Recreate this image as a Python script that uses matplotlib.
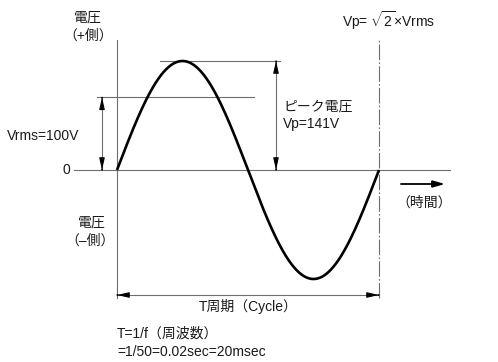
import numpy as np
import matplotlib
matplotlib.use("Agg")
import matplotlib.pyplot as plt

plt.rcParams['font.family'] = ['Liberation Sans', 'Noto Sans CJK JP']
plt.rcParams['mathtext.fontset'] = 'custom'
plt.rcParams['mathtext.rm'] = 'Liberation Sans'

# values of the diagram
period_ms = 20          # T = 1/50 s
peak_v = 141            # Vp
rms_line_v = 94         # level of the Vrms line as drawn
t = np.linspace(0, period_ms, 400)
v = peak_v * np.sin(2 * np.pi * t / period_ms)

# pixel <-> data mapping of the picture
X0, XS = 117, 262 / period_ms     # px of t=0, px per ms
Y0, YS = 170, 109 / peak_v        # px of v=0, px per V


def px(x, y):
    return (x - X0) / XS, (Y0 - y) / YS


fig = plt.figure(figsize=(4.98, 3.62), dpi=100)
ax = fig.add_axes([0, 0, 1, 1])
ax.set_xlim(px(0, 0)[0], px(498, 0)[0])
ax.set_ylim(px(0, 362)[1], px(0, 0)[1])
ax.axis('off')

gray = '#6e6e6e'
txt = '#1a1a1a'

# axes
top = px(0, 40)[1]
bot = px(0, 298)[1]
ax.plot([0, 0], [bot, top], color=gray, lw=0.8)
ax.plot([px(74, 0)[0], px(450, 0)[0]], [0, 0], color=gray, lw=0.8)

# dash-dot end of period
ax.plot([period_ms, period_ms], [bot, top], color=gray, lw=0.8,
        linestyle=(0, (14, 2, 1.5, 2)))

# level lines
ax.plot([px(160, 0)[0], px(280, 0)[0]], [peak_v, peak_v], color=gray, lw=0.8)
ax.plot([px(97, 0)[0], px(254, 0)[0]], [rms_line_v, rms_line_v], color=gray, lw=0.8)

# sine
ax.plot(t, v, color='black', lw=1.9, solid_capstyle='butt')


def dbl_arrow(x1, y1, x2, y2):
    ax.plot([x1, x2], [y1, y2], color=gray, lw=0.8)
    for (xa, ya), (xb, yb) in (((x1, y1), (x2, y2)), ((x2, y2), (x1, y1))):
        xm = xa + (xb - xa) * 0.999
        ym = ya + (yb - ya) * 0.999
        ax.annotate('', xy=(xb, yb), xytext=(xm, ym),
                    arrowprops=dict(arrowstyle='-|>,head_length=7,head_width=1.6',
                                    mutation_scale=1, color='black', lw=0.8,
                                    shrinkA=0, shrinkB=0))


# Vrms arrow
xr = px(102, 0)[0]
dbl_arrow(xr, 0, xr, rms_line_v)
# peak arrow
xp = px(276, 0)[0]
dbl_arrow(xp, 0, xp, peak_v)
# cycle arrow
yc = px(0, 295)[1]
dbl_arrow(0, yc, period_ms, yc)

# time arrow
ta, yt = px(401, 184)
tb, _ = px(445, 184)
ax.annotate('', xy=(tb, yt), xytext=(ta, yt),
            arrowprops=dict(arrowstyle='-|>,head_length=7,head_width=2',
                            mutation_scale=1, color='black', lw=1.3,
                            shrinkA=0, shrinkB=0))

fs = 10
def label(x, y, s, ha='left'):
    ax.text(*px(x, y), s, ha=ha, va='center', fontsize=fs, color=txt)


label(88, 18, '電圧', 'center')
label(88, 36, '（+側）', 'center')
label(79, 136, 'Vrms=100V', 'right')
label(70, 170, '0', 'right')
label(342, 21, 'Vp= $\\sqrt{2}$×Vrms')
label(283, 107, 'ピーク電圧')
label(283, 124, 'Vp=141V')
label(396, 203, '（時間）')
label(92, 223, '電圧', 'center')
label(90, 241, '（–側）', 'center')
label(248, 307, 'T周期（Cycle）', 'center')
label(117, 334, 'T=1/f（周波数）')
label(117, 352, '=1/50=0.02sec=20msec')

fig.savefig('out.png', dpi=100)
